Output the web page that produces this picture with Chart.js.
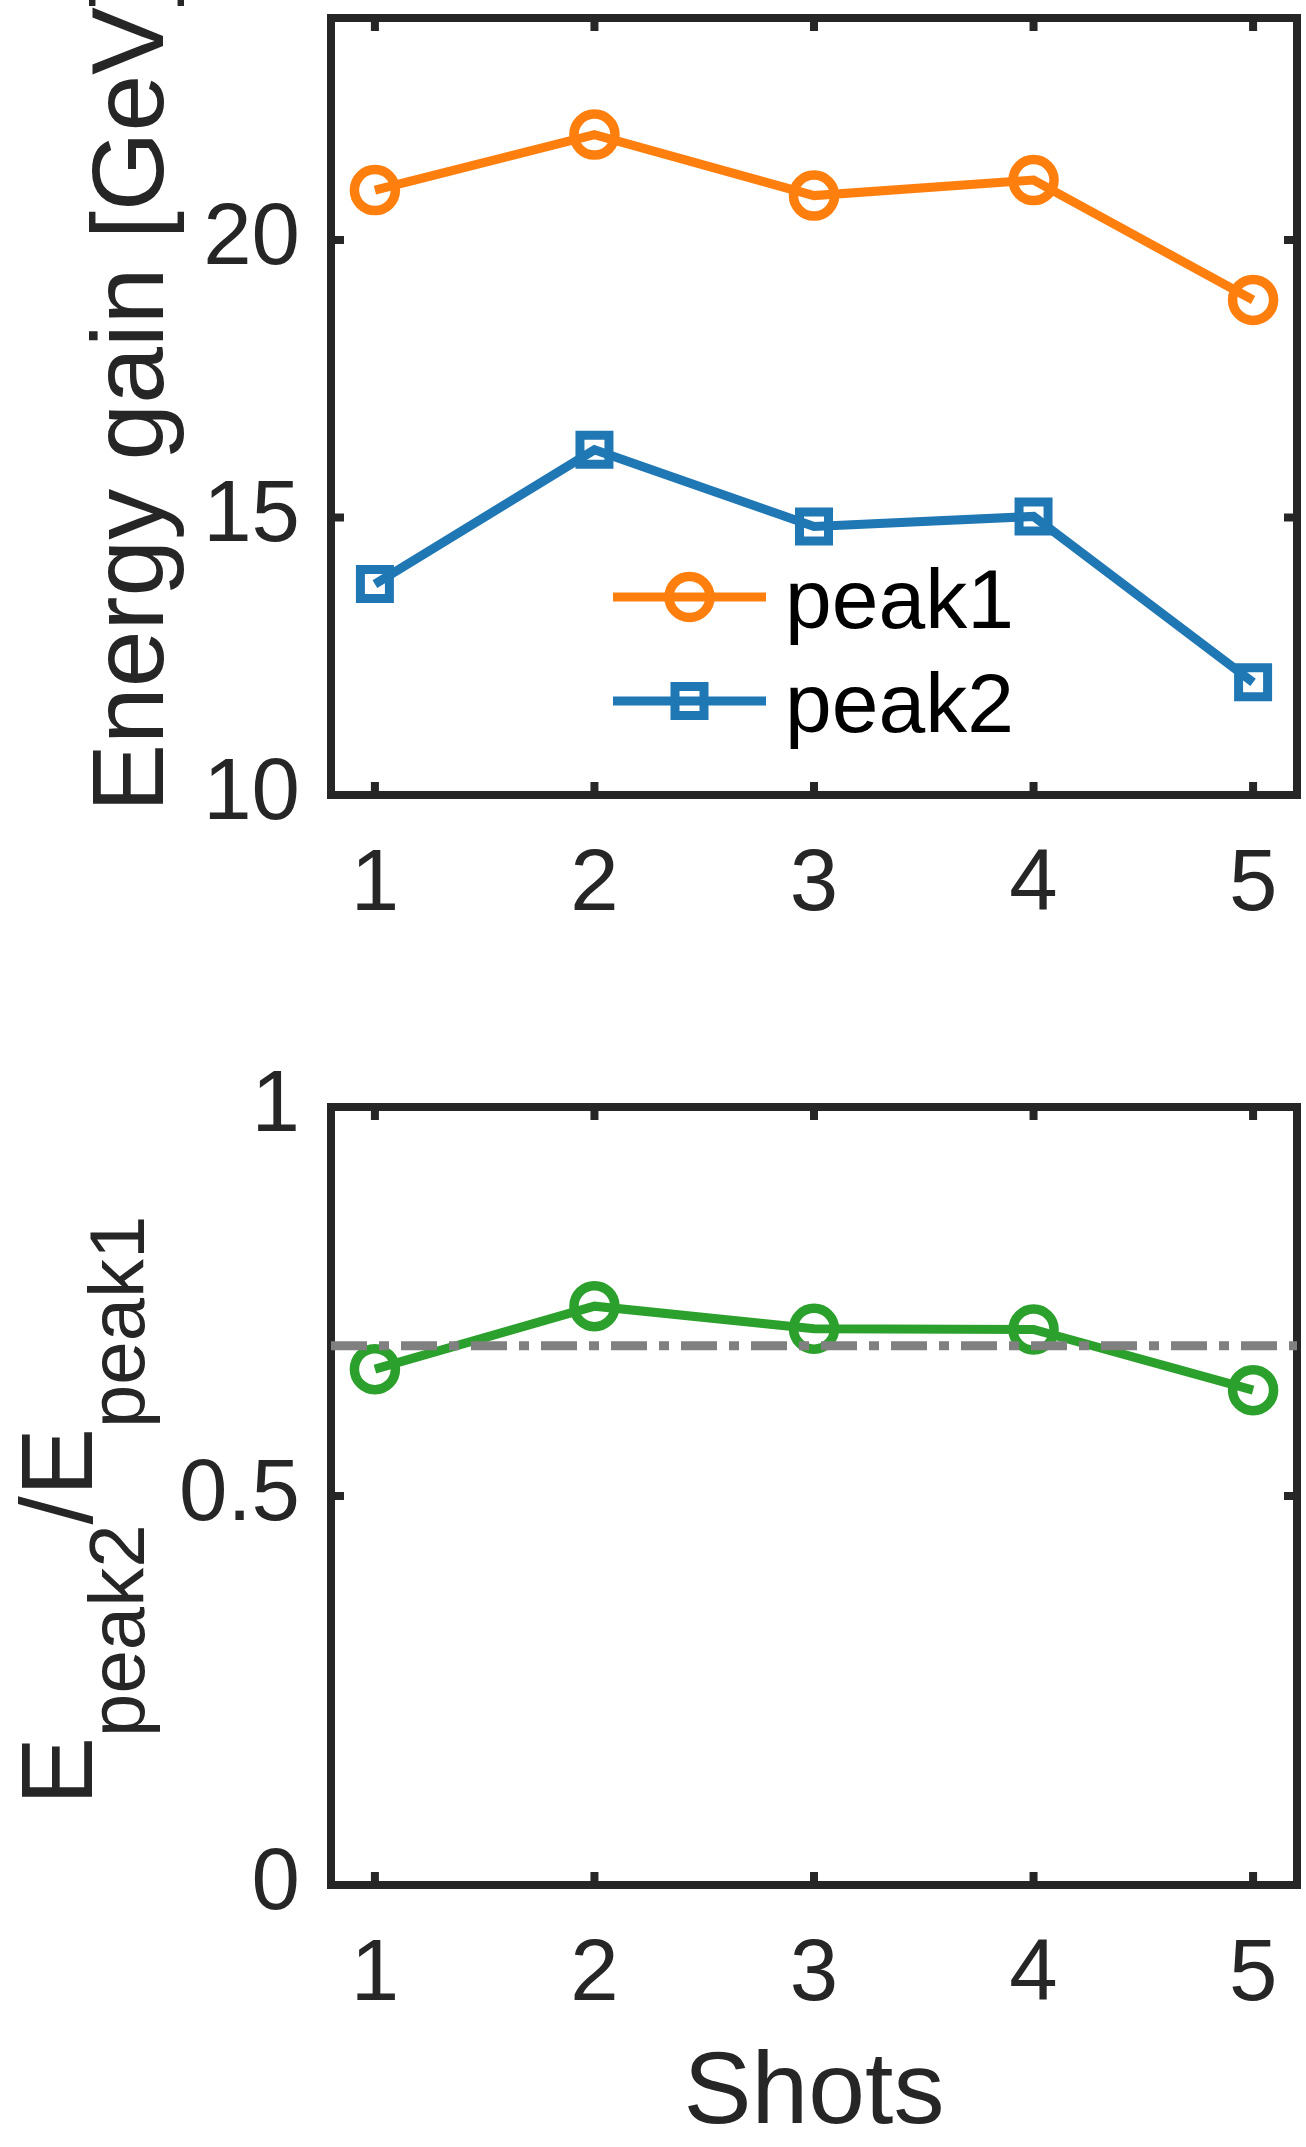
<!DOCTYPE html>
<html>
<head>
<meta charset="utf-8">
<script src="https://cdn.jsdelivr.net/npm/chart.js"></script>
<style>
  html, body { margin: 0; padding: 0; background: #fff; }
  body { width: 1306px; height: 2147px; position: relative; overflow: hidden; }
  .panel { position: absolute; left: 0; width: 1306px; }
  #top { top: 0; height: 1000px; }
  #bottom { top: 1000px; height: 1147px; }
</style>
</head>
<body>
<div class="panel" id="top"><canvas id="energyChart"></canvas></div>
<div class="panel" id="bottom"><canvas id="ratioChart"></canvas></div>
<script>
// data
const shots = [1, 2, 3, 4, 5];
const peak1 = [20.9, 21.9, 20.8, 21.08, 18.92];
const peak2 = [13.8, 16.22, 14.84, 15.02, 12.03];
const ratio = [0.663, 0.744, 0.715, 0.714, 0.636];
const ratioRef = 0.693;
const xRange = [0.8, 5.2];
const energyRange = [10, 24];
const energyTicks = [10, 15, 20];
const ratioRange = [0, 1];
const ratioTicks = [0, 0.5, 1];
const ratioTickLabels = ['0', '0.5', '1'];

const FONT = '"Liberation Sans", Arial, Helvetica, sans-serif';
const INK = '#262626';
const ORANGE = '#ff7f0e';
const BLUE = '#1f77b4';
const GREEN = '#2ca02c';

const pts = (ys) => shots.map((s, i) => ({ x: s, y: ys[i] }));

// box + inward ticks on all four sides, like a matlab axes
const frame = {
  id: 'frame',
  beforeDatasetsDraw(chart) {
    const { ctx, chartArea: a, scales: { x, y } } = chart;
    const len = 13;
    ctx.save();
    ctx.strokeStyle = INK;
    ctx.lineWidth = 8;
    ctx.lineCap = 'butt';
    ctx.beginPath();
    x.ticks.forEach(t => {
      const px = x.getPixelForValue(t.value);
      ctx.moveTo(px, a.top); ctx.lineTo(px, a.top + len);
      ctx.moveTo(px, a.bottom); ctx.lineTo(px, a.bottom - len);
    });
    y.ticks.forEach(t => {
      const py = y.getPixelForValue(t.value);
      ctx.moveTo(a.left, py); ctx.lineTo(a.left + len, py);
      ctx.moveTo(a.right, py); ctx.lineTo(a.right - len, py);
    });
    ctx.stroke();
    ctx.lineJoin = 'miter';
    ctx.strokeRect(a.left, a.top, a.right - a.left, a.bottom - a.top);
    ctx.restore();
  },
  afterDraw(chart, args, opts) {
    const { ctx } = chart;
    ctx.save();
    ctx.fillStyle = INK;
    // rotated y label, parts may carry a subscript
    if (opts.ylabel) {
      const yl = opts.ylabel;
      ctx.translate(yl.x, yl.y);
      ctx.rotate(-Math.PI / 2);
      ctx.textBaseline = 'alphabetic';
      ctx.textAlign = 'left';
      let cur = 0;
      yl.parts.forEach(p => {
        const size = p.sub ? yl.subSize : yl.size;
        ctx.font = size + 'px ' + FONT;
        ctx.fillText(p.text, cur, p.sub ? yl.subShift : 0);
        cur += ctx.measureText(p.text).width;
      });
      ctx.setTransform(1, 0, 0, 1, 0, 0);
    }
    if (opts.xlabel) {
      const a = chart.chartArea;
      ctx.font = opts.xlabel.size + 'px ' + FONT;
      ctx.textAlign = 'center';
      ctx.textBaseline = 'alphabetic';
      ctx.fillText(opts.xlabel.text, (a.left + a.right) / 2, opts.xlabel.y);
    }
    if (opts.legend) {
      const lg = opts.legend;
      chart.data.datasets.forEach((ds, i) => {
        const ly = lg.y + i * lg.step;
        ctx.strokeStyle = ds.borderColor;
        ctx.lineWidth = ds.borderWidth;
        ctx.beginPath();
        ctx.moveTo(lg.x0, ly); ctx.lineTo(lg.x1, ly);
        ctx.stroke();
        const mx = (lg.x0 + lg.x1) / 2;
        ctx.lineWidth = ds.pointBorderWidth;
        ctx.beginPath();
        if (ds.pointStyle === 'rect') {
          const h = ds.pointRadius * Math.SQRT1_2;
          ctx.rect(mx - h, ly - h, 2 * h, 2 * h);
        } else {
          ctx.arc(mx, ly, ds.pointRadius, 0, Math.PI * 2);
        }
        ctx.stroke();
        ctx.fillStyle = '#000';
        ctx.font = lg.size + 'px ' + FONT;
        ctx.textAlign = 'left';
        ctx.textBaseline = 'alphabetic';
        ctx.fillText(ds.label, lg.tx, ly + lg.baseline);
      });
    }
    ctx.restore();
  }
};

function xScale(height) {
  return {
    type: 'linear',
    min: xRange[0],
    max: xRange[1],
    afterBuildTicks: s => { s.ticks = shots.map(v => ({ value: v })); },
    afterFit: s => { s.height = height; s.paddingLeft = 0; s.paddingRight = 0; },
    grid: { display: false, drawTicks: false },
    border: { display: false },
    ticks: { color: INK, padding: 48, font: { family: FONT, size: 87, lineHeight: 1 } }
  };
}

function yScale(range, ticks, labels) {
  return {
    min: range[0],
    max: range[1],
    afterBuildTicks: s => { s.ticks = ticks.map(v => ({ value: v })); },
    afterFit: s => { s.width = 331; s.paddingTop = 0; s.paddingBottom = 0; },
    grid: { display: false, drawTicks: false },
    border: { display: false },
    ticks: {
      color: INK, padding: 31,
      font: { family: FONT, size: 87, lineHeight: 1 },
      callback: v => labels ? labels[ticks.indexOf(v)] : String(v)
    }
  };
}

new Chart(document.getElementById('energyChart'), {
  type: 'line',
  data: {
    datasets: [{
      label: 'peak1',
      data: pts(peak1),
      borderColor: ORANGE,
      borderWidth: 9,
      pointStyle: 'circle',
      pointRadius: 20.5,
      pointBorderWidth: 9.5,
      pointBorderColor: ORANGE,
      pointBackgroundColor: 'rgba(0,0,0,0)'
    }, {
      label: 'peak2',
      data: pts(peak2),
      borderColor: BLUE,
      borderWidth: 9,
      pointStyle: 'rect',
      pointRadius: 20.5,
      pointBorderWidth: 9,
      pointBorderColor: BLUE,
      pointBackgroundColor: 'rgba(0,0,0,0)'
    }]
  },
  options: {
    responsive: true,
    maintainAspectRatio: false,
    animation: false,
    events: [],
    devicePixelRatio: 1,
    layout: { autoPadding: false, padding: { top: 18, right: 9, left: 0, bottom: 0 } },
    scales: {
      x: xScale(205),
      y: yScale(energyRange, energyTicks)
    },
    plugins: {
      legend: { display: false },
      tooltip: { enabled: false },
      frame: {
        ylabel: { x: 163, y: 812, size: 102, parts: [{ text: 'Energy gain [GeV]' }] },
        legend: { x0: 613, x1: 766, y: 597, step: 104, tx: 785, baseline: 31, size: 84 }
      }
    }
  },
  plugins: [frame]
});

new Chart(document.getElementById('ratioChart'), {
  type: 'line',
  data: {
    datasets: [{
      label: 'reference',
      data: [{ x: xRange[0], y: ratioRef }, { x: xRange[1], y: ratioRef }],
      borderColor: '#808080',
      borderWidth: 9,
      borderDash: [36, 12, 10, 12],
      pointRadius: 0,
      order: 0
    }, {
      label: 'ratio',
      data: pts(ratio),
      borderColor: GREEN,
      borderWidth: 9,
      pointStyle: 'circle',
      pointRadius: 20.5,
      pointBorderWidth: 9.5,
      pointBorderColor: GREEN,
      pointBackgroundColor: 'rgba(0,0,0,0)',
      order: 1
    }]
  },
  options: {
    responsive: true,
    maintainAspectRatio: false,
    animation: false,
    events: [],
    devicePixelRatio: 1,
    layout: { autoPadding: false, padding: { top: 107, right: 9, left: 0, bottom: 0 } },
    scales: {
      x: xScale(262),
      y: yScale(ratioRange, ratioTicks, ratioTickLabels)
    },
    plugins: {
      legend: { display: false },
      tooltip: { enabled: false },
      frame: {
        ylabel: {
          x: 92, y: 805, size: 102, subSize: 78, subShift: 52,
          parts: [{ text: 'E' }, { text: 'peak2', sub: true }, { text: '/E' }, { text: 'peak1', sub: true }]
        },
        xlabel: { text: 'Shots', size: 102, y: 1123 }
      }
    }
  },
  plugins: [frame]
});
</script>
</body>
</html>
